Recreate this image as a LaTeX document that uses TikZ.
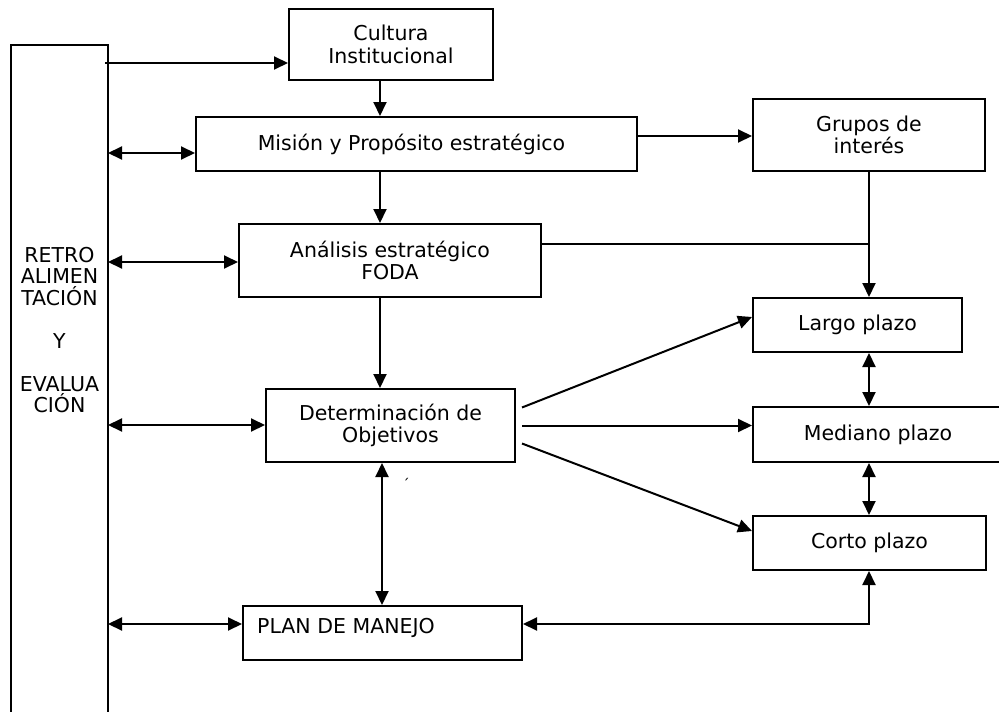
\documentclass[tikz,border=0pt]{standalone}
\usepackage{fontspec}
\setmainfont{DejaVu Sans}
\usetikzlibrary{arrows.meta}
\begin{document}
\begin{tikzpicture}[x=1pt,y=-1pt,
  every node/.style={font=\fontsize{20.5}{22.5}\selectfont},
  box/.style={draw, line width=2pt, inner sep=0pt, align=center},
  conn/.style={line width=2pt, -{Triangle[length=14pt,width=13pt]}},
  dconn/.style={line width=2pt, {Triangle[length=14pt,width=13pt]}-{Triangle[length=14pt,width=13pt]}},
  plain/.style={line width=2pt}]
\useasboundingbox (0,0) rectangle (999,712);
\fill[white] (0,0) rectangle (999,712);

% left bar (open at the bottom)
\draw[plain] (11,716) -- (11,45) -- (108,45) -- (108,716);
\node[align=center, inner sep=0pt, font=\fontsize{20.5}{21.5}\selectfont] (retro) at (59.5,330)
  {RETRO\\ALIMEN\\TACIÓN\\[21.5pt]Y\\[21.5pt]EVALUA\\CIÓN};

% boxes
\node[box, minimum width=204pt, minimum height=71pt] (cult) at (391,44.5) {Cultura\\Institucional};
\node[box, minimum width=441pt, minimum height=54pt] (mis) at (416.5,144) {\hspace*{-10pt}Misión y Propósito estratégico};
\node[box, minimum width=232pt, minimum height=72pt] (grp) at (869,135) {Grupos de\\interés};
\node[box, minimum width=302pt, minimum height=73pt] (ana) at (390,260.5) {Análisis estratégico\\FODA};
\node[box, minimum width=209pt, minimum height=54pt] (lar) at (857.5,325) {Largo plazo};
\node[box, minimum width=250pt, minimum height=55pt] (med) at (878,434.5) {Mediano plazo};
\node[box, minimum width=233pt, minimum height=54pt] (cor) at (869.5,543) {Corto plazo};
\node[box, minimum width=249pt, minimum height=73pt] (det) at (390.5,425.5) {Determinación de\\Objetivos};
\node[box, minimum width=279pt, minimum height=54pt] (plan) at (382.5,633) {};
\node[anchor=base west, inner sep=0pt] (plantext) at (257,633) {PLAN DE MANEJO};
\node[font=\fontsize{14}{14}\selectfont, inner sep=0pt] (mark) at (406,484) {´};

% helper coordinates
\coordinate (b0) at (105,63);
\coordinate (b1) at (108,153);
\coordinate (b2) at (108,262);
\coordinate (b3) at (108,425);
\coordinate (b4) at (108,624);
\coordinate (mx) at (380,0);
\coordinate (px) at (382,0);
\coordinate (gx) at (869,0);
\coordinate (y1) at (0,136);
\coordinate (ya) at (0,244);
\coordinate (yp) at (0,624);

% connectors
\draw[conn] (b0) -- (b0 -| cult.west);
\draw[conn] (cult.south -| mx) -- (mis.north -| mx);
\draw[conn] (mis.south -| mx) -- (ana.north -| mx);
\draw[conn] (ana.south -| mx) -- (det.north -| mx);
\draw[conn] (mis.east |- y1) -- (grp.west |- y1);
\draw[conn] (grp.south -| gx) -- (lar.north -| gx);
\draw[plain] (ana.east |- ya) -- (gx |- ya);
\draw[dconn] (lar.south -| gx) -- (med.north -| gx);
\draw[dconn] (med.south -| gx) -- (cor.north -| gx);
\draw[conn] ([shift={(6,-18)}]det.east) -- ([yshift=8pt]lar.west);
\draw[conn] ([xshift=6pt]det.east) -- (med.west |- det.east);
\draw[conn] ([shift={(6,18)}]det.east) -- ([yshift=12pt]cor.west);
\draw[dconn] (det.south -| px) -- (plan.north -| px);
\draw[dconn] (cor.south -| gx) |- (plan.east |- yp);
\draw[dconn] (b1) -- (b1 -| mis.west);
\draw[dconn] (b2) -- (b2 -| ana.west);
\draw[dconn] (b3) -- (b3 -| det.west);
\draw[dconn] (b4) -- (b4 -| plan.west);
\end{tikzpicture}
\end{document}
